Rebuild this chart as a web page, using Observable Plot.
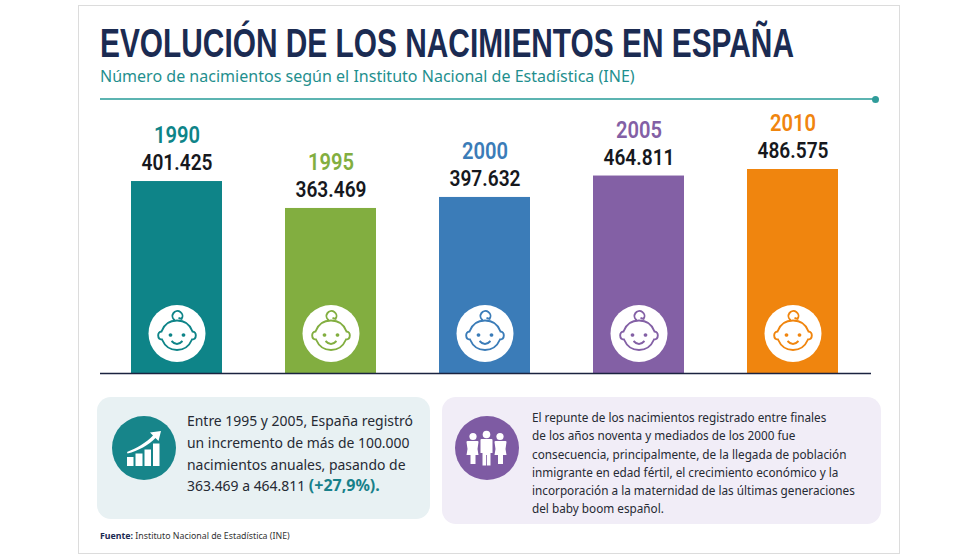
<!DOCTYPE html>
<html lang="es">
<head>
<meta charset="utf-8">
<script src="https://cdn.jsdelivr.net/npm/d3@7"></script>
<script src="https://cdn.jsdelivr.net/npm/@observablehq/plot@0.6"></script>
<style>
html,body{margin:0;padding:0;background:#fff;}
#page{position:relative;width:980px;height:560px;overflow:hidden;font-family:"Noto Sans",sans-serif;}
#frame{position:absolute;left:78px;top:5px;width:822px;height:549px;border:1px solid #dcdcdc;box-sizing:border-box;}
#title{position:absolute;left:100px;top:18px;font:700 40px/50px "Liberation Sans",sans-serif;color:#1b2b52;white-space:nowrap;transform-origin:0 50%;}
#subtitle{position:absolute;left:100px;top:65px;font:400 16.05px/22px "Noto Sans",sans-serif;color:#1f8f8e;white-space:nowrap;}
#hr{position:absolute;left:100px;top:98px;width:775px;height:1.5px;background:#5cb4b1;}
#hrdot{position:absolute;left:872px;top:95.5px;width:7px;height:7px;border-radius:50%;background:#2f9c9a;}
#chart{position:absolute;left:0;top:105px;}
.box{position:absolute;border-radius:14px;}
#b1{left:97px;top:397px;width:333px;height:122px;background:#e8f1f3;}
#b2{left:442px;top:397px;width:439px;height:127px;background:#f1edf7;}
.ic{position:absolute;width:64px;height:64px;top:416px;}
.t{position:absolute;white-space:nowrap;color:#262a33;}
#t1{left:187px;top:410px;font-size:13.95px;line-height:21.8px;}
#t1 b{color:#17808a;font-size:16px;}
#t2{left:532px;top:408px;font-size:11.75px;line-height:18.3px;}
#src{position:absolute;left:100px;top:530px;font-size:8.8px;line-height:12px;color:#333;white-space:nowrap;}
#src b{color:#1b2b52;}
</style>
</head>
<body>
<div id="page">
  <div id="frame"></div>
  <div id="title">EVOLUCIÓN DE LOS NACIMIENTOS EN ESPAÑA</div>
  <div id="subtitle">Número de nacimientos según el Instituto Nacional de Estadística (INE)</div>
  <div id="hr"></div><div id="hrdot"></div>
  <div id="chart"></div>
  <div class="box" id="b1"></div>
  <div class="box" id="b2"></div>
  <svg class="ic" style="left:112px" viewBox="-32 -32 64 64">
    <circle r="32" fill="#17858a"/>
    <g fill="#fff">
      <rect x="-17" y="9" width="6.5" height="9"/>
      <rect x="-8.5" y="5.5" width="7" height="12.5"/>
      <rect x="0.5" y="1.5" width="6.5" height="16.5"/>
      <rect x="9" y="-4.5" width="6.5" height="22.5"/>
      <path d="M17 -17 L6 -15.5 L9 -12.5 C2 -5 -8 0.5 -17 4 L-16.5 5.5 C-6 3 5 -3 11.5 -10 L14.5 -7 Z"/>
    </g>
  </svg>
  <svg class="ic" style="left:455px" viewBox="-32 -32 64 64">
    <circle r="32" fill="#7e5ba3"/>
    <g fill="#fff">
      <circle cx="-14" cy="-11.5" r="3.6"/>
      <path d="M-19.5 -7 H-9.5 Q-8.5 -7 -8.5 -6 L-9.5 1 L-8.5 7 H-11.5 V16 H-16.5 V7 H-20.5 L-19.5 1 L-20.5 -6 Q-20.5 -7 -19.5 -7 Z"/>
      <circle cx="-0.5" cy="-13.5" r="3.8"/>
      <path d="M-5.5 -9 H4.5 Q5.5 -9 5.5 -8 V5 H3.5 V17.5 H-0.1 V7 H-0.9 V17.5 H-4.5 V5 H-6.5 V-8 Q-6.5 -9 -5.5 -9 Z"/>
      <circle cx="13" cy="-11.5" r="3.6"/>
      <path d="M8.5 -7 H18.5 Q19.5 -7 19.5 -6 L18.5 1 L19.5 7 H16 V16 H11 V7 H7.5 L8.5 1 L7.5 -6 Q7.5 -7 8.5 -7 Z"/>
    </g>
  </svg>
  <div class="t" id="t1">Entre 1995 y 2005, España registró<br>un incremento de más de 100.000<br>nacimientos anuales, pasando de<br>363.469 a 464.811 <b>(+27,9%).</b></div>
  <div class="t" id="t2">El repunte de los nacimientos registrado entre finales<br>de los años noventa y mediados de los 2000 fue<br>consecuencia, principalmente, de la llegada de población<br>inmigrante en edad fértil, el crecimiento económico y la<br>incorporación a la maternidad de las últimas generaciones<br>del baby boom español.</div>
  <div id="src"><b>Fuente:</b> Instituto Nacional de Estadística (INE)</div>
</div>
<script>
// Años y nacimientos impresos en la imagen
const anios = ["1990", "1995", "2000", "2005", "2010"];
const nacimientos = [401425, 363469, 397632, 464811, 486575];
// La altura dibujada en la imagen no es proporcional a las cifras impresas:
// altura de cada barra, en % de la barra más alta
const alturaRelativa = [94.1, 80.9, 86.3, 96.8, 100];
const colores = ["#0e8488", "#82ae40", "#3b7cb8", "#8360a5", "#f0850e"];

const filas = anios.map((a, i) => ({
  anio: a,
  altura: alturaRelativa[i],
  etiqueta: String(nacimientos[i]).replace(/(\d{3})$/, ".$1")
}));

// Cara de bebé como símbolo propio de Plot
const bebe = {
  draw(c) {
    c.moveTo(-15.5, -2);
    c.bezierCurveTo(-13, -9, -8, -13, 0, -13);
    c.bezierCurveTo(8, -13, 13, -9, 15.5, -2);
    c.bezierCurveTo(20, -2, 20, 6, 15, 6);
    c.bezierCurveTo(12, 13, 7, 16.5, 0, 16.5);
    c.bezierCurveTo(-7, 16.5, -12, 13, -15, 6);
    c.bezierCurveTo(-20, 6, -20, -2, -15.5, -2);
    c.closePath();
    // rizo
    const rad = g => g * Math.PI / 180;
    c.moveTo(0.5 + 5 * Math.cos(rad(125)), -17.5 + 5 * Math.sin(rad(125)));
    c.arc(0.5, -17.5, 5, rad(125), rad(395));
    c.lineTo(1.5, -15.5);
    // ojos
    c.moveTo(-5.6, 1.5); c.arc(-6.5, 1.5, 0.9, 0, 2 * Math.PI);
    c.moveTo(7.4, 1.5); c.arc(6.5, 1.5, 0.9, 0, 2 * Math.PI);
    // sonrisa
    c.moveTo(-5.5, 7.5);
    c.quadraticCurveTo(0, 13.5, 5.5, 7.5);
  }
};

const grafico = Plot.plot({
  width: 980,
  height: 270,
  marginTop: 8,
  marginBottom: 2,
  marginLeft: 98,
  marginRight: 109,
  x: {type: "band", domain: anios, paddingInner: 0.41, paddingOuter: 0.205, axis: null},
  y: {domain: [0, 100], range: [268, 64], axis: null},
  marks: [
    Plot.barY(filas, {x: "anio", y: "altura", fill: d => colores[anios.indexOf(d.anio)]}),
    Plot.ruleY([0], {stroke: "#1b2340", strokeWidth: 1.4, insetLeft: 2}),
    Plot.dot(filas, {x: "anio", y: 0, dy: -40, r: 28.5, fill: "#fff"}),
    Plot.dot(filas, {
      x: "anio", y: 0, dy: -40, r: 20, symbol: bebe, fill: "none",
      stroke: d => colores[anios.indexOf(d.anio)], strokeWidth: 1.9
    }),
    Plot.text(filas, {
      x: "anio", y: "altura", text: "etiqueta", dy: -18, className: "cifra",
      fontSize: 21.5, fontWeight: 600, fill: "#16181d", fontFamily: "Roboto, sans-serif"
    }),
    Plot.text(filas, {
      x: "anio", y: "altura", text: "anio", dy: -46, className: "anio",
      fontSize: 24, fontWeight: 600, fontFamily: "Roboto, sans-serif",
      fill: d => colores[anios.indexOf(d.anio)]
    })
  ],
  style: {background: "transparent", overflow: "visible"}
});
document.getElementById("chart").appendChild(grafico);

// La letra de la imagen es algo más estrecha que Roboto
function estrechar(selector, anchura) {
  grafico.querySelectorAll(selector).forEach(t => {
    t.setAttribute("textLength", anchura);
    t.setAttribute("lengthAdjust", "spacingAndGlyphs");
  });
}
estrechar(".cifra text", 71);
estrechar(".anio text", 46);

// El título ocupa la misma anchura que en la imagen
const titulo = document.getElementById("title");
titulo.style.transform = `scaleX(${694 / titulo.getBoundingClientRect().width})`;
</script>
</body>
</html>
